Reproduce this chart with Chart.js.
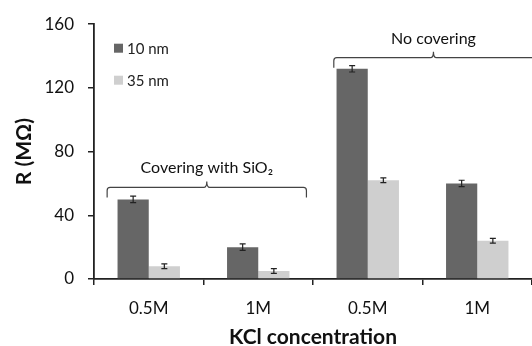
<!DOCTYPE html>
<html><head><meta charset="utf-8">
<script src="https://cdn.jsdelivr.net/npm/chart.js@4/dist/chart.umd.min.js"></script>
<style>html,body{margin:0;padding:0;background:#fff}#wrap{width:532px;height:346px}</style>
</head><body><div id="wrap"><canvas id="c" width="532" height="346"></canvas></div>
<script>
const categories = ['0.5M', '1M', '0.5M', '1M'];
const seriesNames = ['10 nm', '35 nm'];
const values10 = [50, 20, 132, 60];
const values35 = [8, 5, 62, 24];
const err10 = [2, 2, 2, 2];
const err35 = [1.5, 1.5, 1.5, 1.5];
const yTicks = [0, 40, 80, 120, 160];
const groupLabels = ['Covering with SiO\u2082', 'No covering'];
// braces: [startIndex, endIndex, midIndex, yValue]
const braces = [[-0.38, 1.44, 0.53, 57.5], [1.69, 3.6, 2.6, 139]];

const FONT = 'Lato, "Open Sans", sans-serif';
const colors = ['#666666', '#cfcfcf'];

const errorBars = {
  id: 'errorBars',
  afterDatasetsDraw(chart) {
    const ctx = chart.ctx, y = chart.scales.y;
    const errs = [err10, err35];
    ctx.save();
    ctx.strokeStyle = '#222'; ctx.lineWidth = 1.2;
    chart.data.datasets.forEach((ds, di) => {
      chart.getDatasetMeta(di).data.forEach((bar, i) => {
        const v = ds.data[i], e = errs[di][i];
        const yt = y.getPixelForValue(v + e), yb = y.getPixelForValue(v - e);
        ctx.beginPath();
        ctx.moveTo(bar.x, yt); ctx.lineTo(bar.x, yb);
        ctx.moveTo(bar.x - 3, yt); ctx.lineTo(bar.x + 3, yt);
        ctx.moveTo(bar.x - 3, yb); ctx.lineTo(bar.x + 3, yb);
        ctx.stroke();
      });
    });
    ctx.restore();
  }
};

const annot = {
  id: 'annot',
  afterDraw(chart) {
    const ctx = chart.ctx, x = chart.scales.x, y = chart.scales.y;
    ctx.save();
    ctx.strokeStyle = '#444'; ctx.lineWidth = 1.2;
    braces.forEach((b, k) => {
      const x0 = x.getPixelForValue(b[0]), x1 = Math.min(x.getPixelForValue(b[1]), 540), xm = x.getPixelForValue(b[2]);
      const yb = y.getPixelForValue(b[3]);
      const drop = 10, r = 3;
      ctx.beginPath();
      ctx.moveTo(x0, yb + drop);
      ctx.lineTo(x0, yb + r);
      ctx.quadraticCurveTo(x0, yb, x0 + r, yb);
      ctx.lineTo(xm - r, yb);
      ctx.quadraticCurveTo(xm, yb, xm, yb - 6);
      ctx.quadraticCurveTo(xm, yb, xm + r, yb);
      ctx.lineTo(x1 - r, yb);
      ctx.quadraticCurveTo(x1, yb, x1, yb + r);
      ctx.lineTo(x1, yb + drop);
      ctx.stroke();
      ctx.fillStyle = '#111';
      ctx.font = '16px ' + FONT;
      ctx.textAlign = 'center'; ctx.textBaseline = 'alphabetic';
      ctx.fillText(groupLabels[k], xm, yb - 14);
    });
    // legend
    const lx = chart.chartArea.left + 20, ly = [chart.chartArea.top + 24, chart.chartArea.top + 56];
    ctx.font = '15px ' + FONT; ctx.textAlign = 'left'; ctx.textBaseline = 'middle';
    seriesNames.forEach((n, i) => {
      ctx.fillStyle = colors[i];
      ctx.fillRect(lx, ly[i] - 4.5, 9, 9);
      ctx.fillStyle = '#222';
      ctx.fillText(n, lx + 13, ly[i] + 1);
    });
    ctx.restore();
  }
};

new Chart(document.getElementById('c'), {
  type: 'bar',
  data: {
    labels: categories,
    datasets: [
      { label: seriesNames[0], data: values10, backgroundColor: colors[0], borderWidth: 0 },
      { label: seriesNames[1], data: values35, backgroundColor: colors[1], borderWidth: 0 }
    ]
  },
  options: {
    responsive: false, animation: false,
    layout: { padding: { top: 22, right: 0, left: 0, bottom: 0 } },
    categoryPercentage: 0.57, barPercentage: 1.0,
    plugins: { legend: { display: false }, tooltip: { enabled: false } },
    scales: {
      x: {
        grid: { display: true, drawOnChartArea: false, drawTicks: true, tickLength: 6, color: '#222', lineWidth: 1.5, offset: true },
        border: { display: true, color: '#222', width: 1.8 },
        ticks: { color: '#111', font: { size: 17, family: FONT }, padding: 13 },
        title: { display: true, text: 'KCl concentration', color: '#111', font: { size: 21, weight: 'bold', family: FONT }, padding: { top: 0, bottom: -4 } },
        afterFit(s) { s.height = 67; }
      },
      y: {
        min: 0, max: 160,
        afterBuildTicks(s) { s.ticks = yTicks.map(v => ({ value: v })); },
        grid: { display: true, drawOnChartArea: false, drawTicks: true, tickLength: 6, color: '#222', lineWidth: 1.5 },
        border: { display: true, color: '#222', width: 1.8 },
        ticks: { color: '#111', font: { size: 17, family: FONT }, padding: 14 },
        title: { display: true, text: 'R (M\u03A9)', color: '#111', font: { size: 21, weight: 'bold', family: FONT }, padding: { top: 12, bottom: 0 } },
        afterFit(s) { s.width = 94; }
      }
    }
  },
  plugins: [errorBars, annot]
});
</script></body></html>
